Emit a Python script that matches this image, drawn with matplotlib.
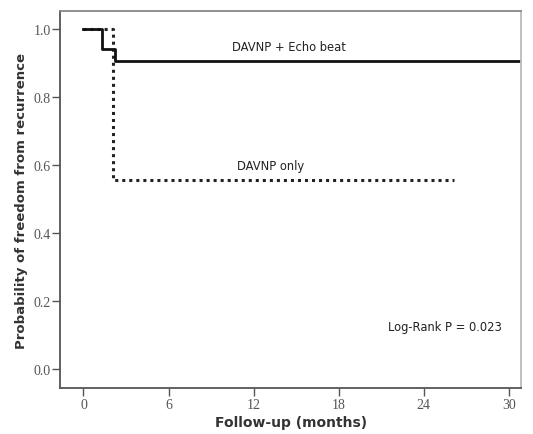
import matplotlib
matplotlib.use("Agg")
import matplotlib.pyplot as plt

# Data
echo_time = [0, 1.3, 2.2, 30.7]
echo_surv = [1.0, 0.94, 0.906, 0.906]
only_time = [0, 2.1, 26.1]
only_surv = [1.0, 0.556, 0.556]
xticks = [0, 6, 12, 18, 24, 30]
yticks = [0.0, 0.2, 0.4, 0.6, 0.8, 1.0]

fig = plt.figure(figsize=(5.33, 4.35), dpi=100)
ax = fig.add_axes([0.1135, 0.1057, 0.864, 0.8667])

ax.step(only_time, only_surv, where="post", color="#222222", lw=2.2,
        linestyle=(0, (1, 1.3)))
ax.step(echo_time, echo_surv, where="post", color="#111111", lw=2.0)

ax.set_xlim(-1.62, 30.85)
ax.set_ylim(-0.056, 1.053)
ax.set_xticks(xticks)
ax.set_xticklabels([str(t) for t in xticks])
ax.set_yticks(yticks)
ax.set_yticklabels([f"{t:.1f}" for t in yticks])

for s in ax.spines.values():
    s.set_color("#555555")
    s.set_linewidth(1.3)
ax.spines["top"].set_color("#888888")
ax.spines["right"].set_color("#bbbbbb")
ax.tick_params(direction="out", length=6, width=1, color="#555555",
               labelsize=10, labelcolor="#555555", pad=1)
for lab in ax.get_xticklabels() + ax.get_yticklabels():
    lab.set_family("Liberation Serif")

ax.set_xlabel("Follow-up (months)", fontsize=10, fontweight="bold", color="#333333",
              labelpad=3)
ax.set_ylabel("Probability of freedom from recurrence", fontsize=9.5,
              fontweight="bold", color="#333333", labelpad=4)

ax.text(14.5, 0.95, "DAVNP + Echo beat", fontsize=8.3, ha="center", va="center", color="#222222")
ax.text(13.2, 0.598, "DAVNP only", fontsize=8.3, ha="center", va="center", color="#222222")
ax.text(25.5, 0.126, "Log-Rank P = 0.023", fontsize=8.3, ha="center", va="center", color="#222222")

fig.savefig("out.png", dpi=100)
